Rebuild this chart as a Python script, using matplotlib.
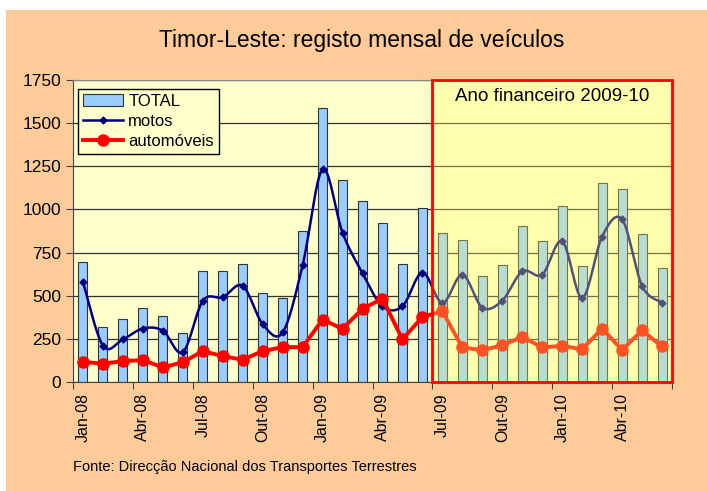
import numpy as np
import matplotlib.pyplot as plt
from matplotlib.patches import Rectangle

plt.rcParams['font.family'] = ['Liberation Sans', 'DejaVu Sans']

# monthly data, Jan-08 .. Jun-10
months = ['Jan-08', 'Fev-08', 'Mar-08', 'Abr-08', 'Mai-08', 'Jun-08',
          'Jul-08', 'Ago-08', 'Set-08', 'Out-08', 'Nov-08', 'Dez-08',
          'Jan-09', 'Fev-09', 'Mar-09', 'Abr-09', 'Mai-09', 'Jun-09',
          'Jul-09', 'Ago-09', 'Set-09', 'Out-09', 'Nov-09', 'Dez-09',
          'Jan-10', 'Fev-10', 'Mar-10', 'Abr-10', 'Mai-10', 'Jun-10']
total = [695, 316, 366, 431, 381, 285, 645, 643, 682, 514, 489, 876,
         1590, 1171, 1050, 922, 682, 1007,
         862, 820, 616, 680, 903, 818, 1021, 672, 1154, 1121, 855, 663]
motos = [580, 210, 247, 310, 297, 172, 470, 491, 557, 335, 287, 676,
         1232, 865, 630, 439, 439, 634,
         458, 622, 431, 472, 641, 622, 816, 487, 843, 942, 557, 460]
automoveis = [117, 106, 121, 127, 85, 114, 179, 150, 129, 179, 202, 202,
              362, 308, 424, 483, 247, 377,
              410, 200, 185, 212, 262, 200, 210, 189, 310, 185, 299, 206]
fy_start = 18  # Jul-09, start of financial year 2009-10


def smooth(x, y, n=20, t=1/6):
    # Excel-like smoothed line (cubic Bezier through the points)
    x = np.asarray(x, float)
    y = np.asarray(y, float)
    px, py = [], []
    for i in range(len(x) - 1):
        i0 = max(i - 1, 0)
        i3 = min(i + 2, len(x) - 1)
        c1x = x[i] + (x[i + 1] - x[i0]) * t
        c1y = y[i] + (y[i + 1] - y[i0]) * t
        c2x = x[i + 1] - (x[i3] - x[i]) * t
        c2y = y[i + 1] - (y[i3] - y[i]) * t
        s = np.linspace(0, 1, n)
        bx = (1-s)**3*x[i] + 3*(1-s)**2*s*c1x + 3*(1-s)*s**2*c2x + s**3*x[i+1]
        by = (1-s)**3*y[i] + 3*(1-s)**2*s*c1y + 3*(1-s)*s**2*c2y + s**3*y[i+1]
        px.extend(bx)
        py.extend(by)
    return np.array(px), np.array(py)


fig = plt.figure(figsize=(7.07, 4.91), dpi=100, facecolor='white')
fig.patches.append(Rectangle((6/707, 0), 701/707, 481/491, transform=fig.transFigure,
                             facecolor='#FFCC99', edgecolor='none', zorder=-10))

ax = fig.add_axes([73/707, 1 - 382/491, 599/707, 302/491])
ax.set_facecolor('#FFFFCC')

x = np.arange(len(months))
h_bar = ax.bar(x, total, width=0.45, color='#99CCFF', edgecolor='#333333', linewidth=0.8,
               label='TOTAL', zorder=2)
sx, sy = smooth(x, motos)
ax.plot(sx, sy, color='#000080', lw=1.8, zorder=3)
ax.plot(x, motos, color='#000080', lw=0, marker='D', ms=3.5, zorder=3)
h_motos, = ax.plot([], [], color='#000080', lw=1.8, marker='D', ms=3.5, label='motos')
h_auto, = ax.plot(x, automoveis, color='#FF0000', lw=2.8, marker='o', ms=8, zorder=4,
                  label='automóveis')

ax.set_xlim(-0.5, len(months) - 0.5)
ax.set_ylim(0, 1750)
ax.set_yticks(np.arange(0, 1751, 250))
ax.yaxis.grid(True, color='#333333', lw=0.9, zorder=0)
ax.set_axisbelow(True)
ax.tick_params(axis='y', labelsize=12.5, length=5, direction='out', colors='#444444',
               labelcolor='black')

# ticks between categories every 3 months, labels at category centers
ax.set_xticks(np.arange(-0.5, len(months), 3))
ax.set_xticklabels([])
ax.set_xticks(x[::3], minor=True)
ax.set_xticklabels(months[::3], minor=True, rotation=90, fontsize=11.5)
ax.tick_params(axis='x', which='major', length=5, colors='#444444')
ax.tick_params(axis='x', which='minor', length=0, pad=8)

for s in ['top', 'right']:
    ax.spines[s].set_color('#888888')
for s in ['left', 'bottom']:
    ax.spines[s].set_color('#444444')

# financial year 2009-10 highlight
ax.add_patch(Rectangle((fy_start - 0.5, 0), len(months) - fy_start, 1750,
                       facecolor='#FFFF70', alpha=0.32, edgecolor='none', zorder=5))
ax.add_patch(Rectangle((fy_start - 0.5, 0), len(months) - fy_start, 1750,
                       facecolor='none', edgecolor='#FF0000', lw=2, zorder=6,
                       clip_on=False))
ax.text((fy_start - 0.5 + len(months) - 0.5) / 2, 1655, 'Ano financeiro 2009-10',
        ha='center', va='center', fontsize=13.5, zorder=7)

leg = ax.legend([h_bar, h_motos, h_auto], ['TOTAL', 'motos', 'automóveis'],
                loc='upper left', bbox_to_anchor=(0.009, 0.97), fontsize=12,
                frameon=True, fancybox=False, framealpha=1, facecolor='#FFFFCC',
                edgecolor='black', handlelength=2.4, handletextpad=0.3,
                borderpad=0.3, labelspacing=0.3, borderaxespad=0)
leg.get_frame().set_linewidth(1)
leg.set_zorder(8)

fig.text(362/707, 1 - 40/491, 'Timor-Leste: registo mensal de veículos',
         ha='center', va='center', fontsize=16.5)
fig.text(73/707, 1 - 467/491, 'Fonte: Direcção Nacional dos Transportes Terrestres',
         ha='left', va='center', fontsize=10.5)

fig.savefig('out.png', dpi=100, facecolor=fig.get_facecolor())
